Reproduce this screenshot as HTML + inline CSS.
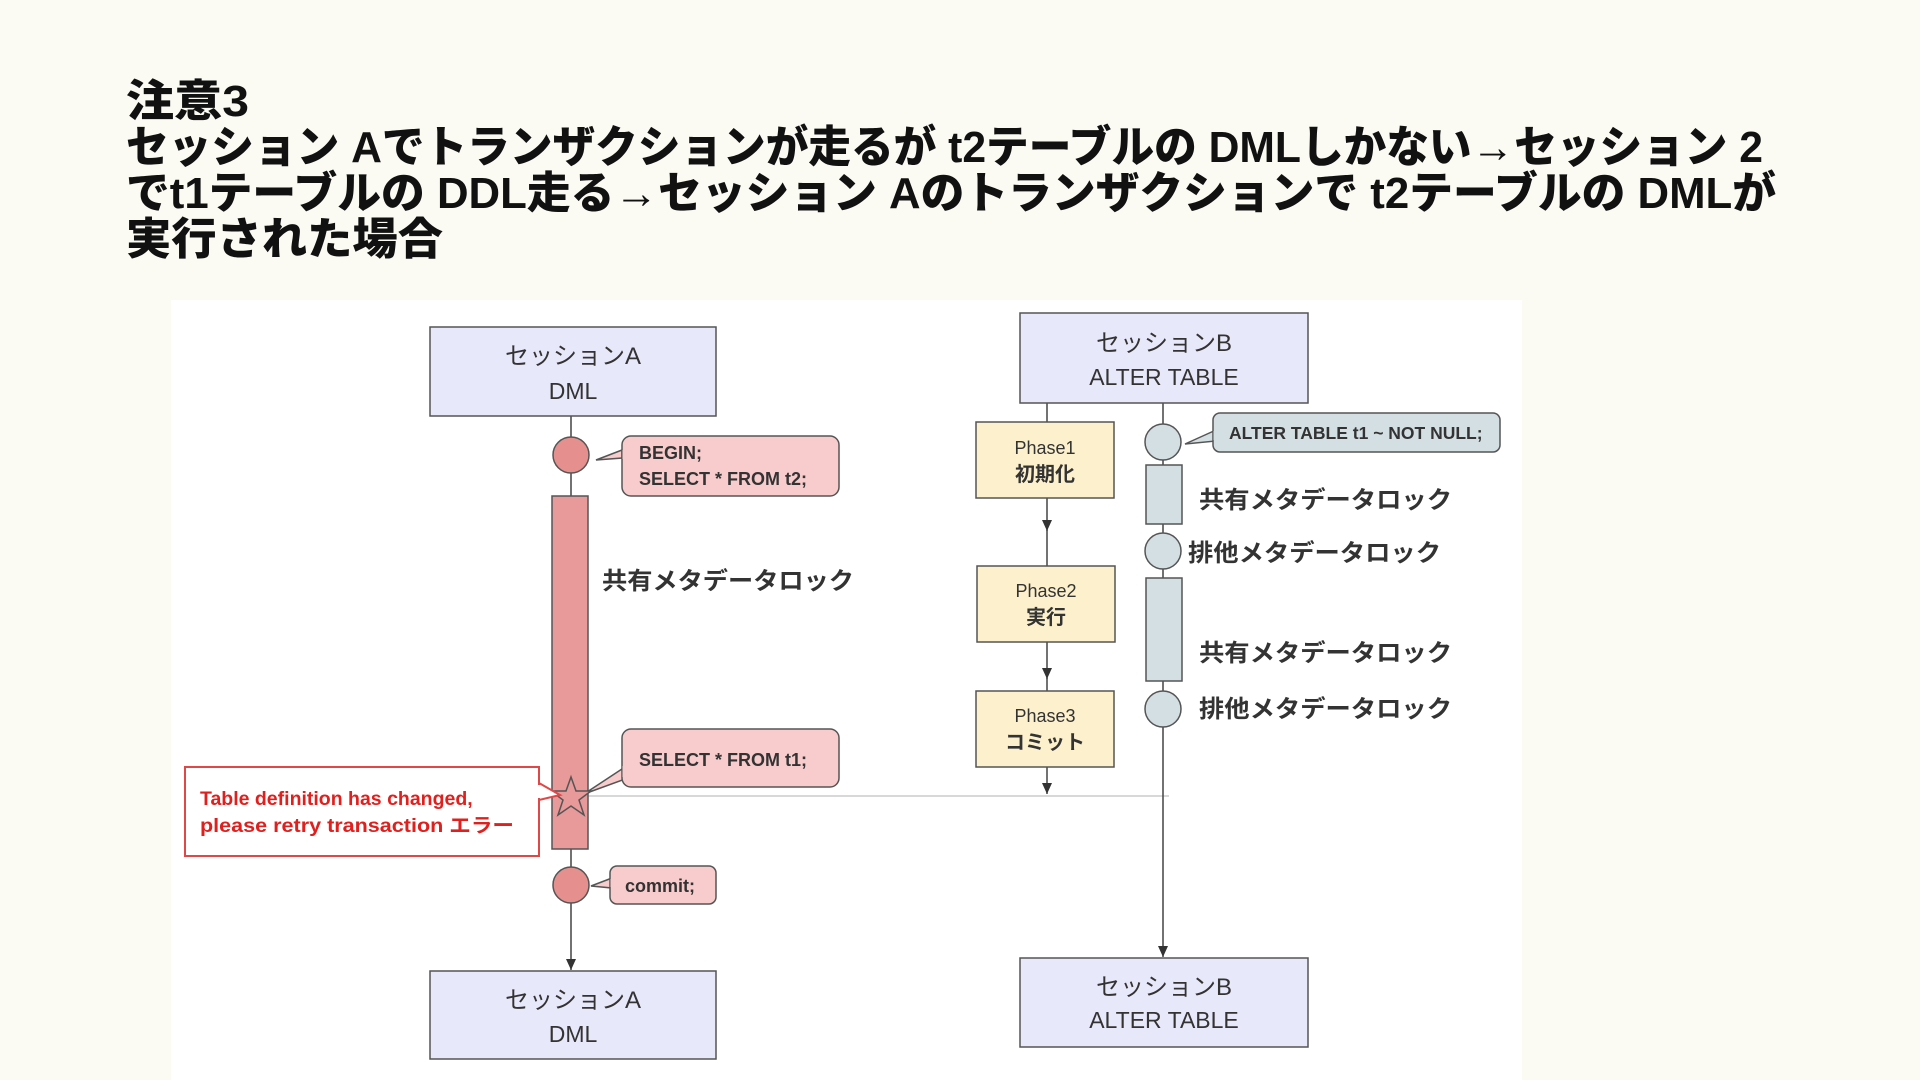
<!DOCTYPE html>
<html><head><meta charset="utf-8"><style>
html,body{margin:0;padding:0;background:#fbfbf3;}
svg{display:block}
text{font-family:"Liberation Sans","Noto Sans CJK JP",sans-serif;}
</style></head><body>
<svg width="1920" height="1080" viewBox="0 0 1920 1080" xmlns="http://www.w3.org/2000/svg">
<rect width="1920" height="1080" fill="#fbfbf3"/>
<g font-weight="900" font-size="44" fill="#111">
<text x="126" y="116" textLength="123" lengthAdjust="spacingAndGlyphs">注意3</text>
<text x="126" y="162" textLength="1637" lengthAdjust="spacingAndGlyphs">セッション Aでトランザクションが走るが t2テーブルの DMLしかない→セッション 2</text>
<text x="126" y="208" textLength="1650" lengthAdjust="spacingAndGlyphs">でt1テーブルの DDL走る→セッション Aのトランザクションで t2テーブルの DMLが</text>
<text x="126" y="254" textLength="317" lengthAdjust="spacingAndGlyphs">実行された場合</text>
</g>
<rect x="171" y="300" width="1351" height="780" fill="#ffffff"/>
<defs><marker id="ar" markerWidth="12" markerHeight="12" refX="11" refY="5" orient="auto" markerUnits="userSpaceOnUse"><path d="M0,0 L11,5 L0,10 Z" fill="#333"/></marker></defs>
<!-- lifeline A -->
<line x1="571" y1="416" x2="571" y2="970" stroke="#444" stroke-width="1.5" marker-end="url(#ar)"/>
<line x1="588" y1="796" x2="1169" y2="796" stroke="#ccc" stroke-width="1.5"/>
<rect x="430" y="327" width="286" height="89" fill="#e8e8fb" stroke="#555" stroke-width="1.5"/>
<text x="573" y="364" font-size="24" text-anchor="middle" fill="#333">セッションA</text>
<text x="573" y="399" font-size="23" text-anchor="middle" fill="#333">DML</text>
<rect x="430" y="971" width="286" height="88" fill="#e8e8fb" stroke="#555" stroke-width="1.5"/>
<text x="573" y="1008" font-size="24" text-anchor="middle" fill="#333">セッションA</text>
<text x="573" y="1042" font-size="23" text-anchor="middle" fill="#333">DML</text>
<circle cx="571" cy="455" r="18" fill="#e5908f" stroke="#555" stroke-width="1.5"/>
<rect x="552" y="496" width="36" height="353" fill="#e8999a" stroke="#555" stroke-width="1.5"/>
<circle cx="571" cy="885" r="18" fill="#e5908f" stroke="#555" stroke-width="1.5"/>
<path d="M622,450 L596,460 L622,458 Z" fill="#f8cccc" stroke="#555" stroke-width="1.5"/>
<rect x="622" y="436" width="217" height="60" rx="9" fill="#f8cccc" stroke="#555" stroke-width="1.5"/>
<path d="M624,450 L624,459" stroke="#f8cccc" stroke-width="3"/>
<text x="639" y="459" font-size="18" font-weight="bold" fill="#333">BEGIN;</text>
<text x="639" y="485" font-size="18" font-weight="bold" fill="#333">SELECT * FROM t2;</text>
<text x="602" y="589" font-size="24" font-weight="bold" fill="#333" textLength="252" lengthAdjust="spacingAndGlyphs">共有メタデータロック</text>
<path d="M628,765 L584,794 L628,778 Z" fill="#f8cccc" stroke="#555" stroke-width="1.5"/>
<rect x="622" y="729" width="217" height="58" rx="9" fill="#f8cccc" stroke="#555" stroke-width="1.5"/>
<path d="M624,766 L624,777" stroke="#f8cccc" stroke-width="3"/>
<text x="639" y="766" font-size="18" font-weight="bold" fill="#333">SELECT * FROM t1;</text>
<path d="M571,777 L576,791 L591,791 L579,800 L584,815 L571,806 L558,815 L563,800 L551,791 L566,791 Z" fill="#e8999a" stroke="#555" stroke-width="1.5"/>
<path d="M539,783 L560,795 L539,800" fill="#fff" stroke="#e04848" stroke-width="2"/>
<rect x="185" y="767" width="354" height="89" fill="#fff" stroke="#e04848" stroke-width="2"/>
<path d="M539,785 L539,798" stroke="#fff" stroke-width="3"/>
<text x="200" y="805" font-size="19.5" font-weight="bold" fill="#e0201e">Table definition has changed,</text>
<text x="200" y="832" font-size="19.5" font-weight="bold" fill="#e0201e" textLength="314" lengthAdjust="spacingAndGlyphs">please retry transaction エラー</text>
<path d="M612,878 L591,886 L612,888 Z" fill="#f8cccc" stroke="#555" stroke-width="1.5"/>
<rect x="610" y="866" width="106" height="38" rx="7" fill="#f8cccc" stroke="#555" stroke-width="1.5"/>
<path d="M612,879 L612,887" stroke="#f8cccc" stroke-width="3"/>
<text x="625" y="892" font-size="18" font-weight="bold" fill="#333">commit;</text>
<!-- Session B -->
<line x1="1163" y1="403" x2="1163" y2="957" stroke="#444" stroke-width="1.5" marker-end="url(#ar)"/>
<line x1="1047" y1="403" x2="1047" y2="422" stroke="#444" stroke-width="1.5"/>
<line x1="1047" y1="498" x2="1047" y2="531" stroke="#444" stroke-width="1.5" marker-end="url(#ar)"/>
<line x1="1047" y1="529" x2="1047" y2="566" stroke="#444" stroke-width="1.5"/>
<line x1="1047" y1="642" x2="1047" y2="679" stroke="#444" stroke-width="1.5" marker-end="url(#ar)"/>
<line x1="1047" y1="677" x2="1047" y2="691" stroke="#444" stroke-width="1.5"/>
<line x1="1047" y1="767" x2="1047" y2="794" stroke="#444" stroke-width="1.5" marker-end="url(#ar)"/>
<rect x="1020" y="313" width="288" height="90" fill="#e8e8fb" stroke="#555" stroke-width="1.5"/>
<text x="1164" y="351" font-size="24" text-anchor="middle" fill="#333">セッションB</text>
<text x="1164" y="385" font-size="23" text-anchor="middle" fill="#333">ALTER TABLE</text>
<rect x="1020" y="958" width="288" height="89" fill="#e8e8fb" stroke="#555" stroke-width="1.5"/>
<text x="1164" y="995" font-size="24" text-anchor="middle" fill="#333">セッションB</text>
<text x="1164" y="1028" font-size="23" text-anchor="middle" fill="#333">ALTER TABLE</text>
<g fill="#fdf0cc" stroke="#555" stroke-width="1.5">
<rect x="976" y="422" width="138" height="76"/>
<rect x="977" y="566" width="138" height="76"/>
<rect x="976" y="691" width="138" height="76"/>
</g>
<g font-size="18" text-anchor="middle" fill="#333">
<text x="1045" y="454">Phase1</text>
<text x="1045" y="481" font-weight="bold" font-size="20">初期化</text>
<text x="1046" y="597">Phase2</text>
<text x="1046" y="624" font-weight="bold" font-size="20">実行</text>
<text x="1045" y="722">Phase3</text>
<text x="1045" y="749" font-weight="bold" font-size="20">コミット</text>
</g>
<g fill="#d3dfe3" stroke="#555" stroke-width="1.5">
<circle cx="1163" cy="442" r="18"/>
<rect x="1146" y="465" width="36" height="59"/>
<circle cx="1163" cy="551" r="18"/>
<rect x="1146" y="578" width="36" height="103"/>
<circle cx="1163" cy="709" r="18"/>
</g>
<path d="M1216,430 L1185,444 L1216,441 Z" fill="#d3dfe3" stroke="#555" stroke-width="1.5"/>
<rect x="1213" y="413" width="287" height="39" rx="7" fill="#d3dfe3" stroke="#555" stroke-width="1.5"/>
<path d="M1215,431 L1215,440" stroke="#d3dfe3" stroke-width="3"/>
<text x="1229" y="439" font-size="17.5" font-weight="bold" fill="#333">ALTER TABLE t1 ~ NOT NULL;</text>
<g font-size="24" font-weight="bold" fill="#333">
<text x="1199" y="508" textLength="253" lengthAdjust="spacingAndGlyphs">共有メタデータロック</text>
<text x="1188" y="561" textLength="253" lengthAdjust="spacingAndGlyphs">排他メタデータロック</text>
<text x="1199" y="661" textLength="253" lengthAdjust="spacingAndGlyphs">共有メタデータロック</text>
<text x="1199" y="717" textLength="253" lengthAdjust="spacingAndGlyphs">排他メタデータロック</text>
</g>
</svg>
</body></html>
